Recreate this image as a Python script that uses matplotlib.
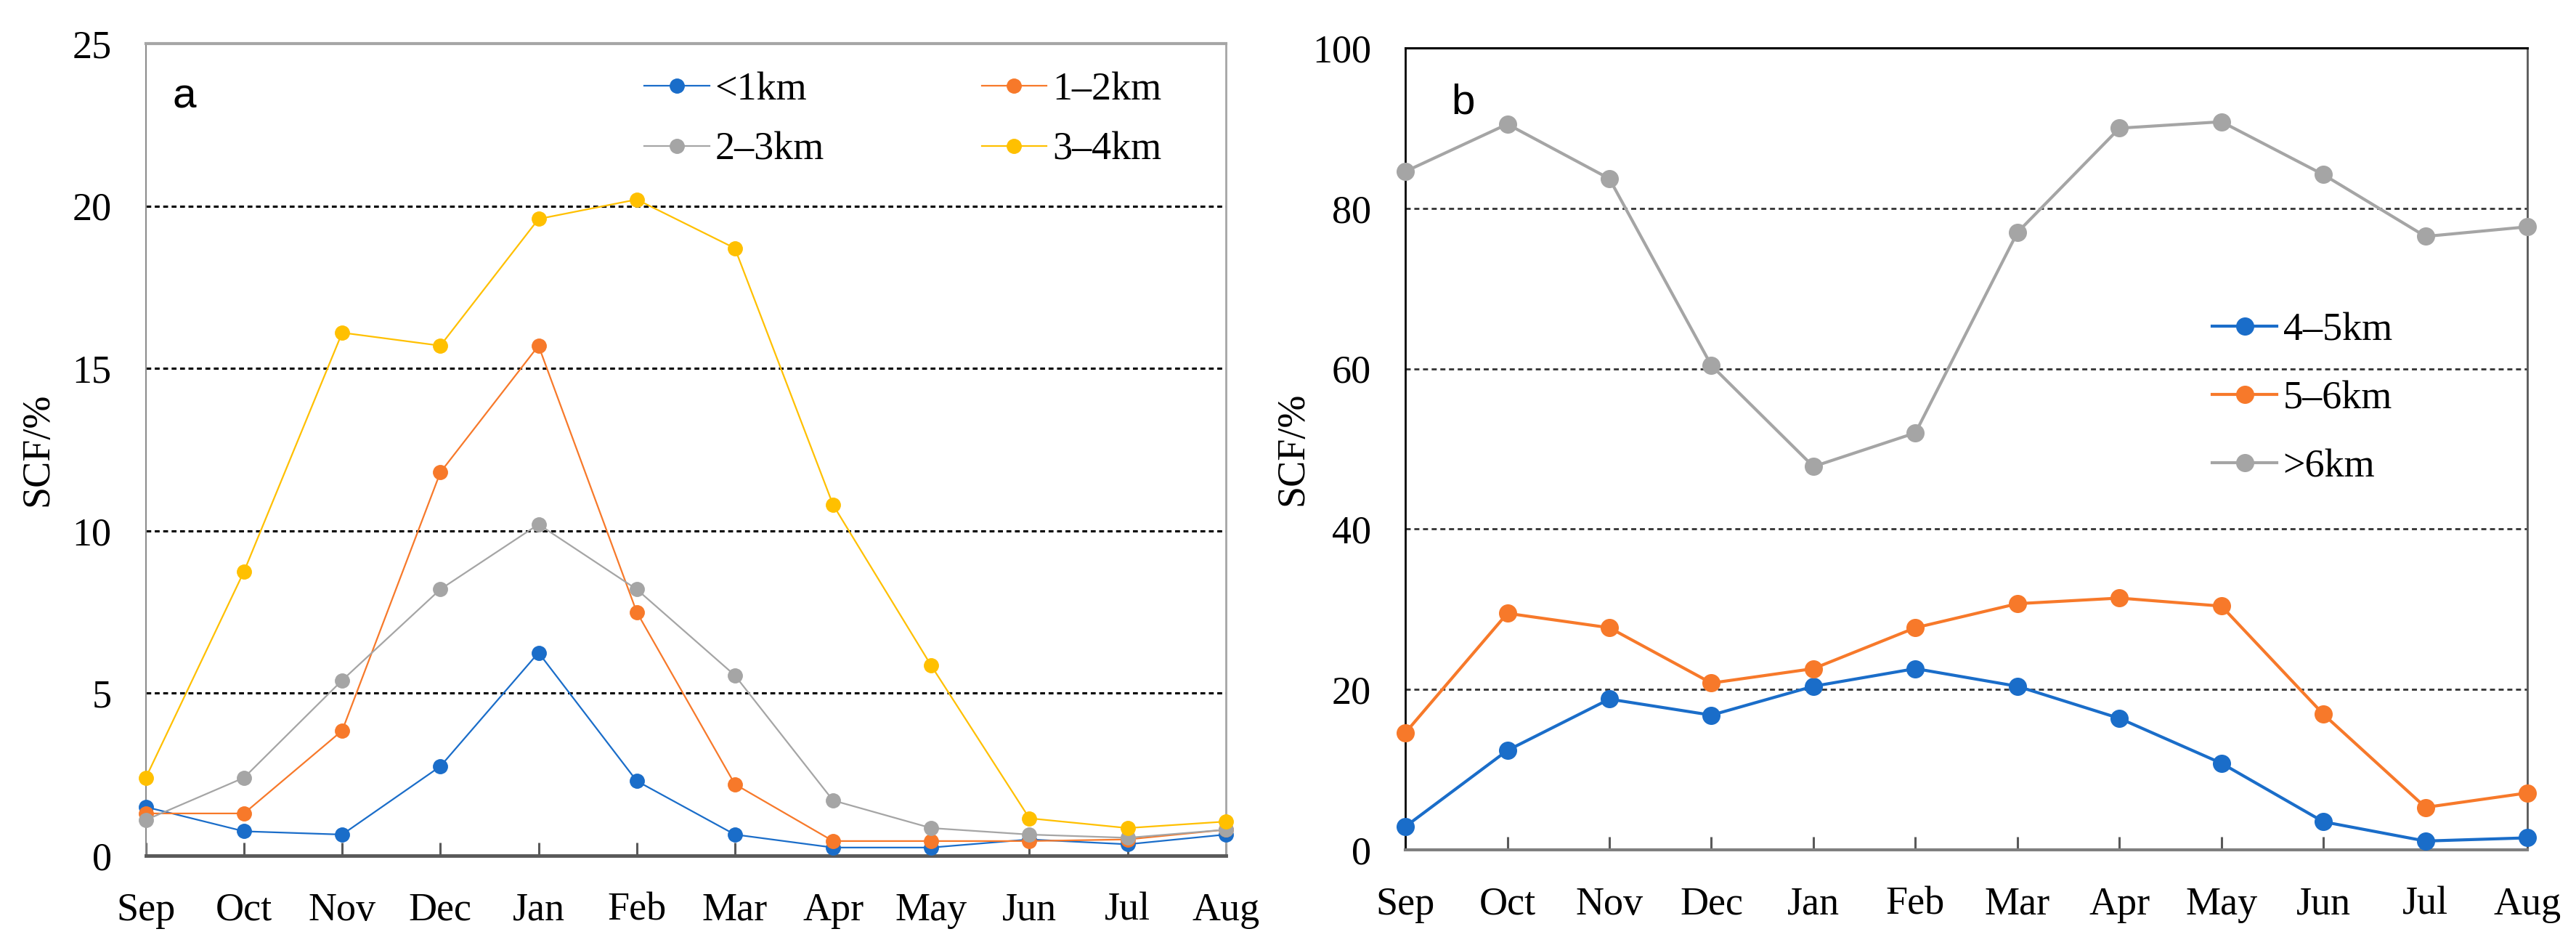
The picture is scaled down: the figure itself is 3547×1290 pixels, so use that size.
import matplotlib
matplotlib.use('Agg')
import matplotlib.pyplot as plt

plt.rcParams['font.family'] = 'Liberation Serif'

months = ['Sep', 'Oct', 'Nov', 'Dec', 'Jan', 'Feb', 'Mar', 'Apr', 'May', 'Jun', 'Jul', 'Aug']

# panel a, SCF (%) by elevation band
lt1 = [1.5, 0.75, 0.65, 2.75, 6.25, 2.3, 0.65, 0.25, 0.25, 0.5, 0.35, 0.65]
km1_2 = [1.3, 1.3, 3.85, 11.8, 15.7, 7.5, 2.2, 0.45, 0.45, 0.45, 0.5, 0.8]
km2_3 = [1.1, 2.4, 5.4, 8.2, 10.2, 8.2, 5.55, 1.7, 0.85, 0.65, 0.55, 0.8]
km3_4 = [2.4, 8.75, 16.1, 15.7, 19.6, 20.2, 18.7, 10.8, 5.85, 1.15, 0.85, 1.05]

# panel b
km4_5 = [2.9, 12.4, 18.8, 16.8, 20.4, 22.6, 20.4, 16.4, 10.8, 3.5, 1.1, 1.5]
km5_6 = [14.6, 29.5, 27.7, 20.8, 22.6, 27.7, 30.7, 31.4, 30.4, 16.9, 5.3, 7.1]
gt6 = [84.6, 90.5, 83.7, 60.4, 47.8, 52.0, 77.0, 90.0, 90.8, 84.2, 76.5, 77.7]

blue = '#1A6DC9'
orange = '#F7792A'
gray = '#A5A5A5'
yellow = '#FFC000'

fig = plt.figure(figsize=(35.48, 12.9), dpi=100)
ax1 = fig.add_axes([0.0566, 0.0868, 0.4191, 0.8667])
ax2 = fig.add_axes([0.5454, 0.0930, 0.4355, 0.8558])

x = list(range(len(months)))
fs = 39

# ---- panel a ----
h = {}
for vals, c, lab in [(lt1, blue, '<1km'), (km1_2, orange, '1\u20132km'),
                     (km2_3, gray, '2\u20133km'), (km3_4, yellow, '3\u20134km')]:
    h[lab], = ax1.plot(x, vals, '-o', color=c, lw=1.6, markersize=14, label=lab,
                       clip_on=False, zorder=3)

ax1.set_xlim(0, 11)
ax1.set_ylim(0, 25)
ax1.set_yticks([0, 5, 10, 15, 20, 25])
for v in [5, 10, 15, 20]:
    ax1.axhline(v, color='black', lw=2.2, ls=(0, (2.2, 1.6)), zorder=1)
ax1.spines['top'].set_color('#A6A6A6')
ax1.spines['top'].set_linewidth(3)
ax1.spines['right'].set_color('#A6A6A6')
ax1.spines['right'].set_linewidth(2)
ax1.spines['left'].set_color('#8C8C8C')
ax1.spines['left'].set_linewidth(1.5)
ax1.spines['bottom'].set_color('#595959')
ax1.spines['bottom'].set_linewidth(3.5)
ax1.text(0.025, 0.921, 'a', transform=ax1.transAxes, fontsize=42, family='Liberation Sans')
# legend filled row by row: <1km, 1-2km / 2-3km, 3-4km
order = ['<1km', '2\u20133km', '1\u20132km', '3\u20134km']
ax1.legend([h[k] for k in order], order, loc='upper left', bbox_to_anchor=(0.447, 0.985),
           ncol=2, frameon=False, fontsize=fs, handlelength=1.65, handletextpad=0.15,
           columnspacing=4.0, labelspacing=0.6, borderaxespad=0)
ax1.set_ylabel('SCF/%', fontsize=fs)
ax1.yaxis.set_label_coords(-0.083, 0.5)

# ---- panel b ----
for vals, c, lab in [(km4_5, blue, '4\u20135km'), (km5_6, orange, '5\u20136km'), (gt6, gray, '>6km')]:
    ax2.plot(x, vals, '-o', color=c, lw=3, markersize=17, label=lab, clip_on=False, zorder=3)

ax2.set_xlim(0, 11)
ax2.set_ylim(0, 100)
ax2.set_yticks([0, 20, 40, 60, 80, 100])
for v in [20, 40, 60, 80]:
    ax2.axhline(v, color='#333333', lw=2, ls=(0, (2.5, 1.8)), zorder=1)
ax2.spines['top'].set_color('black')
ax2.spines['top'].set_linewidth(2.2)
ax2.spines['left'].set_color('black')
ax2.spines['left'].set_linewidth(2)
ax2.spines['right'].set_color('#595959')
ax2.spines['right'].set_linewidth(2)
ax2.spines['bottom'].set_color('#7F7F7F')
ax2.spines['bottom'].set_linewidth(3)
ax2.text(0.041, 0.918, 'b', transform=ax2.transAxes, fontsize=42, family='Liberation Sans')
ax2.legend(loc='upper left', bbox_to_anchor=(0.705, 0.69), frameon=False,
           fontsize=fs, handlelength=1.65, handletextpad=0.15, labelspacing=0.8,
           borderaxespad=0)
ax2.set_ylabel('SCF/%', fontsize=fs)
ax2.yaxis.set_label_coords(-0.084, 0.5)

for ax in (ax1, ax2):
    ax.set_xticks(x)
    ax.set_xticklabels(months)
    ax.tick_params(axis='x', direction='in', length=13, width=2.2, color='#595959',
                   labelsize=fs, pad=36)
    ax.tick_params(axis='y', length=0, labelsize=fs, pad=34)

fig.savefig('out.png', dpi=100)
